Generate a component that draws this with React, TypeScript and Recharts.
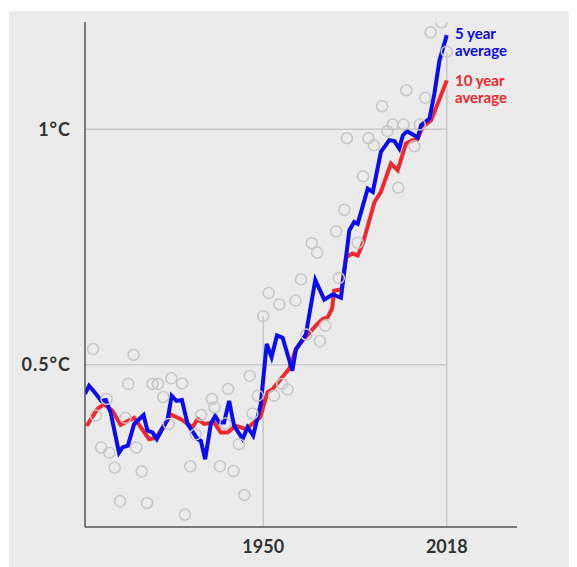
import React from "react";
import {
  ComposedChart,
  Line,
  Scatter,
  XAxis,
  YAxis,
  ReferenceLine,
} from "recharts";

// annual readings (hollow circles)
const annualYears = [
  1887, 1888, 1890, 1892, 1893, 1895, 1897, 1899, 1900, 1902, 1903, 1905, 1907, 1909,
  1911, 1913, 1915, 1916, 1920, 1921, 1923, 1925, 1927, 1931, 1932, 1934, 1936, 1937,
  1939, 1941, 1943, 1945, 1946, 1948, 1950, 1952, 1954, 1956, 1957, 1959, 1962, 1964,
  1966, 1968, 1970, 1971, 1973, 1977, 1978, 1980, 1981, 1985, 1987, 1989, 1991, 1994,
  1996, 1998, 2000, 2002, 2003, 2006, 2008, 2010, 2012, 2016, 2018,
];
const annualValues = [
  0.533, 0.392, 0.324, 0.427, 0.313, 0.281, 0.21, 0.387, 0.459, 0.521, 0.324, 0.273, 0.206, 0.459,
  0.459, 0.431, 0.374, 0.471, 0.46, 0.181, 0.284, 0.352, 0.393, 0.427, 0.409, 0.284, 0.375, 0.448,
  0.274, 0.331, 0.223, 0.476, 0.396, 0.434, 0.603, 0.652, 0.434, 0.628, 0.459, 0.447, 0.636, 0.681,
  0.564, 0.758, 0.738, 0.55, 0.583, 0.783, 0.684, 0.829, 0.981, 0.759, 0.9, 0.981, 0.966, 1.049,
  0.996, 1.01, 0.876, 1.01, 1.083, 0.964, 1.01, 1.067, 1.206, 1.227, 1.165,
];

// 5 year average
const fiveYears = [
  1884, 1885.5, 1888, 1890, 1891.7, 1893.5, 1896.6, 1897.9, 1899.9, 1902.2, 1905.7, 1907.1,
  1909, 1910.6, 1914.6, 1916.1, 1917.9, 1919.9, 1922, 1925.7, 1926.9, 1928.5, 1930.6, 1932.2,
  1933.7, 1935.5, 1937.4, 1939.2, 1942.4, 1944.2, 1946.3, 1949.1, 1951.3, 1953.1, 1955.1,
  1957.2, 1960.8, 1962.1, 1965.8, 1969.3, 1972.6, 1975.7, 1978.8, 1981.9, 1983.7, 1985,
  1988.7, 1990.6, 1993.6, 1996.7, 1998.6, 2000.4, 2001.7, 2003.3, 2006, 2007.2, 2008.5,
  2011.6, 2013.4, 2015.3, 2018,
];
const fiveValues = [
  0.438, 0.455, 0.438, 0.423, 0.425, 0.398, 0.313, 0.324, 0.328, 0.374, 0.393, 0.36,
  0.356, 0.342, 0.384, 0.434, 0.423, 0.425, 0.374, 0.342, 0.338, 0.299, 0.374, 0.391,
  0.377, 0.377, 0.423, 0.37, 0.342, 0.367, 0.349, 0.416, 0.544, 0.516, 0.562,
  0.557, 0.487, 0.532, 0.564, 0.68, 0.638, 0.649, 0.642, 0.785, 0.803, 0.799,
  0.874, 0.867, 0.952, 0.977, 0.975, 0.959, 0.987, 0.996, 0.987, 0.982, 1.009,
  1.023, 1.076, 1.147, 1.2,
];

// 10 year average
const tenYears = [
  1884.6, 1888.6, 1891, 1894.2, 1897.2, 1902.2, 1907.7, 1910.2, 1915.8, 1919.5, 1923.8,
  1925.7, 1928.1, 1931.8, 1934.3, 1936.8, 1939.9, 1943.6, 1948.9, 1951.6, 1953.5, 1959.6,
  1962.1, 1965.6, 1969.5, 1972, 1973.9, 1975.5, 1976.3, 1979, 1980.7, 1983.1, 1985, 1986.9,
  1991.2, 1993.6, 1997.3, 1999.8, 2002.9, 2005.4, 2007.2, 2009.1, 2012.2, 2018,
];
const tenValues = [
  0.37, 0.406, 0.416, 0.402, 0.372, 0.387, 0.342, 0.344, 0.394, 0.384, 0.367,
  0.384, 0.374, 0.377, 0.356, 0.356, 0.37, 0.363, 0.388, 0.441, 0.448, 0.491,
  0.533, 0.558, 0.583, 0.597, 0.601, 0.619, 0.657, 0.66, 0.728, 0.736, 0.732, 0.757,
  0.845, 0.867, 0.927, 0.913, 0.97, 0.977, 0.98, 1.005, 1.019, 1.104,
];

const yTicks = [0.5, 1];
const xTicks = [1950, 2018];
const yTickLabels: Record<number, string> = { 0.5: "0.5°C", 1: "1°C" };

const annual = annualYears.map((year, i) => ({ year, value: annualValues[i] }));
const five = fiveYears.map((year, i) => ({ year, value: fiveValues[i] }));
const ten = tenYears.map((year, i) => ({ year, value: tenValues[i] }));

const X_MIN = 1884;
const X_MAX = 2044;
const Y_MIN = 0.155;
const Y_MAX = 1.228;

const BLUE = "#0b0bf2";
const RED = "#ee2a30";
const GRID = "#c9c9c9";
const FONT = "Lato, 'Open Sans', sans-serif";

const value1950 = annualValues[annualYears.indexOf(1950)];
const value2018 = annualValues[annualYears.indexOf(2018)];

function Ring(props: any) {
  const { cx, cy } = props;
  if (cx == null || cy == null) return null;
  return <circle cx={cx} cy={cy} r={5.5} fill="none" stroke="#c6c6c6" strokeWidth={1.5} />;
}

const tickStyle = { fontFamily: FONT, fontWeight: 700, fontSize: 18, fill: "#333" };

const legendLine = (top: number, color: string, text: string) => (
  <div
    style={{
      position: "absolute",
      left: 446,
      top,
      fontFamily: FONT,
      fontWeight: 700,
      fontSize: 15,
      lineHeight: "15px",
      color,
      whiteSpace: "nowrap",
    }}
  >
    {text}
  </div>
);

export default function App() {
  return (
    <div
      style={{
        position: "relative",
        marginLeft: 1,
        marginTop: 3,
        width: 568,
        height: 556,
        background: "#ebebeb",
      }}
    >
      <ComposedChart
        width={568}
        height={556}
        margin={{ top: 11, right: 60, bottom: 0, left: 0 }}
      >
        <XAxis
          type="number"
          dataKey="year"
          domain={[X_MIN, X_MAX]}
          ticks={xTicks}
          allowDataOverflow
          height={40}
          tickLine={false}
          tickSize={0}
          tickMargin={13}
          axisLine={{ stroke: "#555", strokeWidth: 1.5 }}
          tick={tickStyle}
        />
        <YAxis
          type="number"
          dataKey="value"
          domain={[Y_MIN, Y_MAX]}
          ticks={yTicks}
          allowDataOverflow
          width={76}
          tickLine={false}
          tickSize={0}
          tickMargin={14}
          axisLine={{ stroke: "#555", strokeWidth: 1.5 }}
          tick={{ ...tickStyle, letterSpacing: 1 }}
          tickFormatter={(v: number) => yTickLabels[v] ?? String(v)}
        />
        {yTicks.map((t) => (
          <ReferenceLine
            key={"h" + t}
            segment={[
              { x: X_MIN, y: t },
              { x: 2018, y: t },
            ]}
            stroke={GRID}
            strokeWidth={1.5}
          />
        ))}
        <ReferenceLine
          segment={[
            { x: 1950, y: Y_MIN },
            { x: 1950, y: value1950 },
          ]}
          stroke={GRID}
          strokeWidth={1.5}
        />
        <ReferenceLine
          segment={[
            { x: 2018, y: Y_MIN },
            { x: 2018, y: value2018 },
          ]}
          stroke={GRID}
          strokeWidth={1.5}
        />
        <Scatter data={annual} dataKey="value" shape={<Ring />} isAnimationActive={false} />
        <Line
          data={ten}
          dataKey="value"
          type="linear"
          stroke={RED}
          strokeWidth={4}
          dot={false}
          activeDot={false}
          isAnimationActive={false}
        />
        <Line
          data={five}
          dataKey="value"
          type="linear"
          stroke={BLUE}
          strokeWidth={4}
          dot={false}
          activeDot={false}
          isAnimationActive={false}
        />
      </ComposedChart>
      {legendLine(15, BLUE, "5 year")}
      {legendLine(32, BLUE, "average")}
      {legendLine(62, RED, "10 year")}
      {legendLine(79, RED, "average")}
    </div>
  );
}
